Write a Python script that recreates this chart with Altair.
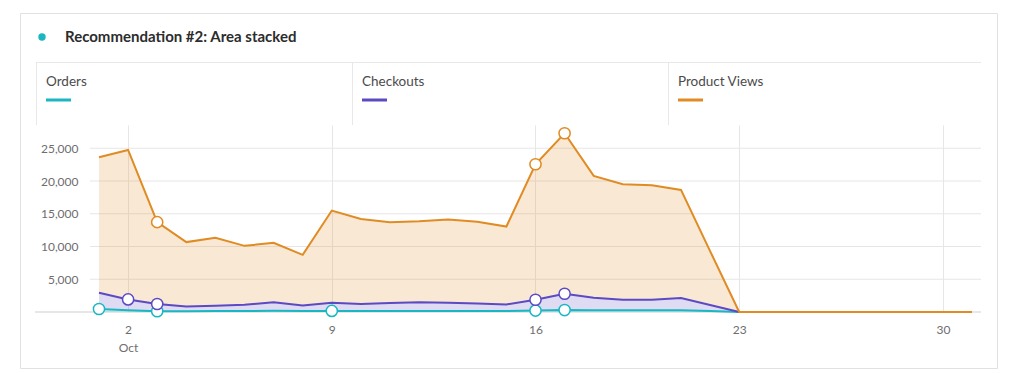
import altair as alt
import pandas as pd

# ---- data ----
days = list(range(1, 32))
series = ["Orders", "Checkouts", "Product Views"]
colors = ["#1ab7c3", "#5b4ac4", "#e08b23"]
orders = [460, 250, 110, 130, 140, 150, 180, 150, 160, 170, 170, 170, 160, 160, 160,
          220, 300, 280, 270, 270, 280, 140] + [0] * 9
checkouts = [2480, 1670, 1110, 720, 820, 960, 1290, 860, 1260, 1050, 1200, 1300, 1260,
             1150, 1000, 1650, 2490, 1900, 1600, 1600, 1850, 930] + [0] * 9
product_views = [20690, 22820, 12500, 9820, 10370, 8990, 9090, 7720, 14070, 12980, 12350,
                 12400, 12700, 12460, 11890, 20690, 24500, 18600, 17630, 17490, 16510,
                 8230] + [0] * 9
marked_days = {"Orders": [1, 3, 9, 16, 17], "Checkouts": [2, 3, 16, 17],
               "Product Views": [3, 16, 17]}
x_tick_values = [2, 9, 16, 23, 30]
y_tick_values = [5000, 10000, 15000, 20000, 25000]
title_text = "Recommendation #2: Area stacked"
month_label = "Oct"

FONT = "Lato"

rows = []
for i, (name, vals) in enumerate(zip(series, [orders, checkouts, product_views])):
    for d, v in zip(days, vals):
        rows.append({"day": d, "series": name, "value": v, "ord": i,
                     "marked": d in marked_days[name]})
df = pd.DataFrame(rows)
one = pd.DataFrame({"k": [0]})

W, H = 944, 187
xscale = alt.Scale(domain=[-1.165, 31.275], nice=False, zero=False)
yscale = alt.Scale(domain=[0, 28550], nice=False)
cscale = alt.Scale(domain=series, range=colors)

base = alt.Chart(df).transform_stack(
    stack="value", groupby=["day"], as_=["y0", "y1"], sort=[{"field": "ord"}]
)

xenc = alt.X("day:Q", scale=xscale, axis=alt.Axis(
    values=x_tick_values, title=None, grid=True, gridColor="#e6e6e6", domain=False,
    ticks=False, tickSize=0, labelPadding=12, labelFontSize=12, labelColor="#6e6e6e",
    labelFont=FONT, labelLineHeight=18,
    labelExpr="datum.value == 2 ? ['2', '" + month_label + "'] : datum.label"))
yenc = alt.Y("y1:Q", scale=yscale, axis=alt.Axis(
    values=y_tick_values, title=None, grid=False, domain=False, ticks=False, tickSize=0,
    offset=-46, labelPadding=4, format=",d", labelFontSize=12, labelColor="#6e6e6e",
    labelFont=FONT))

area = base.mark_area(fillOpacity=0.2, interpolate="linear").encode(
    x=xenc, y=yenc, y2="y0:Q",
    color=alt.Color("series:N", scale=cscale, legend=None),
    order=alt.Order("ord:Q"))
line = base.mark_line(strokeWidth=2).encode(
    x=alt.X("day:Q", scale=xscale), y=alt.Y("y1:Q", scale=yscale),
    color=alt.Color("series:N", scale=cscale, legend=None),
    detail="series:N")
points = base.transform_filter("datum.marked").mark_point(
    shape="circle", filled=True, fill="white", size=125, strokeWidth=1.5, opacity=1).encode(
    x=alt.X("day:Q", scale=xscale), y=alt.Y("y1:Q", scale=yscale),
    stroke=alt.Stroke("series:N", scale=cscale, legend=None))

gridlines = alt.Chart(pd.DataFrame({"v": y_tick_values})).mark_rule(
    color="#e6e6e6", strokeWidth=1).encode(
    y=alt.Y("v:Q", scale=yscale), x=alt.value(54), x2=alt.value(945))
baseline = alt.Chart(pd.DataFrame({"v": [0]})).mark_rule(
    color="#cfcfcf", strokeWidth=1).encode(
    y=alt.Y("v:Q", scale=yscale), x=alt.value(-1), x2=alt.value(945))


def box(x, x2, y, y2, color):
    return alt.Chart(one).mark_rect(color=color).encode(
        x=alt.value(x), x2=alt.value(x2), y=alt.value(y), y2=alt.value(y2))


card = alt.Chart(one).mark_rect(fill="white", fillOpacity=0, stroke="#e1e1e1",
                                strokeWidth=1).encode(
    x=alt.value(-15.5), x2=alt.value(961.5), y=alt.value(-111.5), y2=alt.value(243.5))

header_lines = [box(0, 945, -63, -62, "#e8e8e8")]
for xo in [0, 316, 632]:
    header_lines.append(box(xo, xo + 1, -63, 0, "#e8e8e8"))

header_labels = []
for xo, name, col in zip([10, 326, 642], series, colors):
    header_labels.append(alt.Chart(one).mark_text(
        text=name, align="left", baseline="middle", fontSize=13.5, font=FONT,
        color="#4b4b4b").encode(x=alt.value(xo), y=alt.value(-43)))
    header_labels.append(box(xo, xo + 25, -26.5, -23.5, col))

dot = alt.Chart(one).mark_point(shape="circle", filled=True, size=55, color=colors[0],
                                opacity=1).encode(x=alt.value(6), y=alt.value(-88))
title = alt.Chart(one).mark_text(
    text=title_text, align="left", baseline="middle", fontSize=15, fontWeight="bold",
    font=FONT, color="#2c2c2c").encode(x=alt.value(29), y=alt.value(-88))

chart = alt.layer(
    card, *header_lines, *header_labels, dot, title, gridlines, baseline,
    area, line, points
).resolve_scale(color="shared").properties(
    width=W, height=H,
    autosize=alt.AutoSizeParams(type="none"),
    padding={"left": 28, "top": 117, "right": 20, "bottom": 58},
    background="white",
).configure_view(stroke=None)

chart.save("out.html", embed_options={"renderer": "svg", "actions": False})
